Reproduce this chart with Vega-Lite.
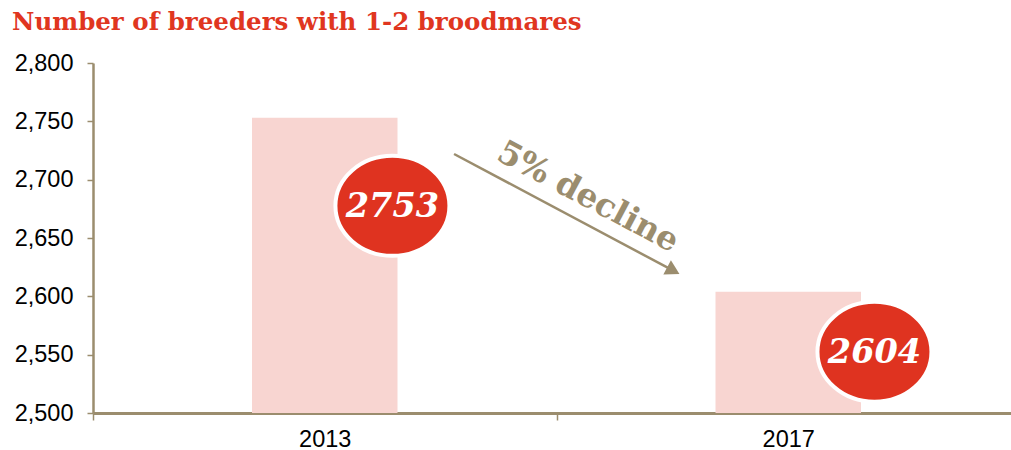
{
  "$schema": "https://vega.github.io/schema/vega-lite/v6.json",
  "width": 915,
  "height": 350,
  "autosize": {"type": "none"},
  "padding": {"left": 93, "top": 63, "right": 3, "bottom": 37},
  "background": "white",
  "title": {
    "text": "Number of breeders with 1-2 broodmares",
    "anchor": "start",
    "frame": "group",
    "dx": -81,
    "offset": 16,
    "font": "DejaVu Serif",
    "fontSize": 24.5,
    "fontWeight": "bold",
    "color": "#e0361f"
  },
  "config": {
    "view": {"stroke": null},
    "axis": {
      "domainColor": "#9b8d6e",
      "tickColor": "#9b8d6e",
      "grid": false,
      "title": null,
      "labelColor": "#000000",
      "labelFont": "Liberation Sans",
      "labelFontSize": 23.5
    }
  },
  "datasets": {
    "bars": [
      {"year": "2013", "breeders": 2753},
      {"year": "2017", "breeders": 2604}
    ],
    "badges": [
      {"pos": 0.646, "level": 2677.6, "label": "2753"},
      {"pos": 1.686, "level": 2552.5, "label": "2604"}
    ],
    "arrow": [
      {"x0": 0.779, "y0": 2722, "x1": 1.252, "y1": 2622, "note": "5% decline", "nx": 1.068, "ny": 2685}
    ]
  },
  "resolve": {"scale": {"x": "independent"}, "axis": {"x": "independent"}},
  "layer": [
    {
      "data": {"name": "bars"},
      "mark": {"type": "bar", "width": 145.5, "color": "#f8d5d1"},
      "encoding": {
        "x": {
          "field": "year",
          "type": "nominal",
          "scale": {"range": [0, 927], "paddingInner": 0, "paddingOuter": 0},
          "axis": {
            "labelAngle": 0,
            "tickBand": "extent",
            "tickSize": 7,
            "tickWidth": 1.5,
            "domainWidth": 3,
            "labelPadding": 7
          }
        },
        "y": {
          "field": "breeders",
          "type": "quantitative",
          "scale": {"domain": [2500, 2800], "nice": false, "zero": false},
          "axis": {
            "values": [2500, 2550, 2600, 2650, 2700, 2750, 2800],
            "format": ",.0f",
            "tickSize": 6,
            "tickWidth": 1.5,
            "domainWidth": 2.5,
            "labelPadding": 14
          }
        },
        "y2": {"datum": 2500}
      }
    },
    {
      "data": {"name": "arrow"},
      "mark": {"type": "rule", "color": "#9b8d6e", "strokeWidth": 2.5},
      "encoding": {
        "x": {"field": "x0", "type": "quantitative", "scale": {"domain": [0, 2], "range": [0, 927]}, "axis": null},
        "y": {"field": "y0", "type": "quantitative"},
        "x2": {"field": "x1"},
        "y2": {"field": "y1"}
      }
    },
    {
      "data": {"name": "arrow"},
      "mark": {"type": "point", "shape": "triangle-right", "angle": 28, "size": 260, "filled": true, "opacity": 1, "color": "#9b8d6e"},
      "encoding": {
        "x": {"field": "x1", "type": "quantitative", "scale": {"domain": [0, 2], "range": [0, 927]}, "axis": null},
        "y": {"field": "y1", "type": "quantitative"}
      }
    },
    {
      "data": {"name": "arrow"},
      "mark": {"type": "text", "angle": 28, "font": "DejaVu Serif", "fontWeight": "bold", "fontSize": 33, "color": "#9b8d6e", "align": "center", "baseline": "middle"},
      "encoding": {
        "x": {"field": "nx", "type": "quantitative", "scale": {"domain": [0, 2], "range": [0, 927]}, "axis": null},
        "y": {"field": "ny", "type": "quantitative"},
        "text": {"field": "note"}
      }
    },
    {
      "data": {"name": "badges"},
      "mark": {
        "type": "point",
        "shape": "M -1.14 0 A 1.14 1 0 1 1 1.14 0 A 1.14 1 0 1 1 -1.14 0 Z",
        "size": 10000,
        "filled": true,
        "opacity": 1,
        "fill": "#df3320",
        "stroke": "white",
        "strokeWidth": 4
      },
      "encoding": {
        "x": {"field": "pos", "type": "quantitative", "scale": {"domain": [0, 2], "range": [0, 927]}, "axis": null},
        "y": {"field": "level", "type": "quantitative"}
      }
    },
    {
      "data": {"name": "badges"},
      "mark": {"type": "text", "font": "DejaVu Serif", "fontWeight": "bold", "fontStyle": "italic", "fontSize": 33.5, "color": "white", "align": "center", "baseline": "middle", "dy": 1},
      "encoding": {
        "x": {"field": "pos", "type": "quantitative", "scale": {"domain": [0, 2], "range": [0, 927]}, "axis": null},
        "y": {"field": "level", "type": "quantitative"},
        "text": {"field": "label"}
      }
    }
  ]
}
